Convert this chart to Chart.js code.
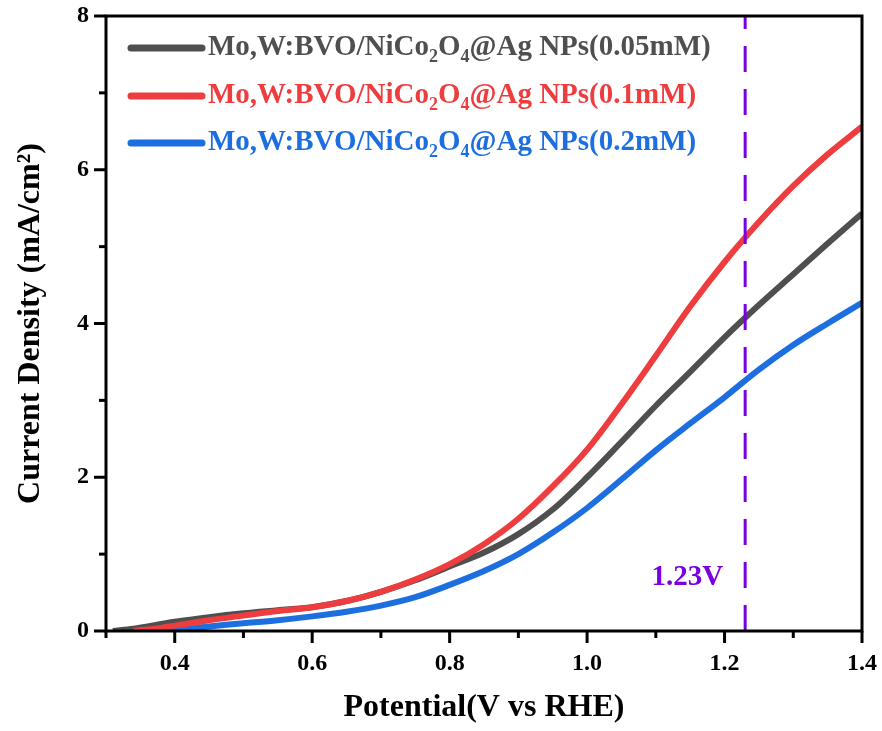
<!DOCTYPE html>
<html>
<head>
<meta charset="utf-8">
<script src="https://cdn.jsdelivr.net/npm/chart.js@4"></script>
<style>
  html, body { margin: 0; padding: 0; background: #fff; }
  #wrap { width: 882px; height: 731px; }
</style>
</head>
<body>
<div id="wrap"><canvas id="lsv"></canvas></div>
<script>
// potential (V vs RHE) and current density (mA/cm2)
const potential = [0.31, 0.34, 0.38, 0.40, 0.45, 0.50, 0.55, 0.60, 0.65, 0.70, 0.75, 0.80,
  0.85, 0.90, 0.95, 1.00, 1.05, 1.10, 1.15, 1.20, 1.25, 1.30, 1.35, 1.40];
const j005 = [0, 0.03, 0.09, 0.12, 0.18, 0.23, 0.27, 0.31, 0.39, 0.51, 0.66, 0.84,
  1.02, 1.26, 1.58, 2.00, 2.46, 2.93, 3.37, 3.82, 4.24, 4.64, 5.04, 5.43];
const j01 = [null, 0, 0.04, 0.07, 0.14, 0.20, 0.26, 0.31, 0.39, 0.51, 0.67, 0.87,
  1.13, 1.46, 1.88, 2.36, 2.95, 3.58, 4.22, 4.80, 5.32, 5.79, 6.20, 6.56];
const j02 = [null, null, 0, 0.02, 0.06, 0.10, 0.14, 0.19, 0.25, 0.33, 0.44, 0.60,
  0.78, 1.00, 1.28, 1.60, 1.97, 2.35, 2.70, 3.04, 3.40, 3.72, 4.00, 4.27];
const seriesNames = ['Mo,W:BVO/NiCo2O4@Ag NPs(0.05mM)', 'Mo,W:BVO/NiCo2O4@Ag NPs(0.1mM)', 'Mo,W:BVO/NiCo2O4@Ag NPs(0.2mM)'];
const refPotential = 1.23;
const refLabel = '1.23V';
const xTicks = [0.3, 0.4, 0.5, 0.6, 0.7, 0.8, 0.9, 1.0, 1.1, 1.2, 1.3, 1.4];
const yTicks = [0, 1, 2, 3, 4, 5, 6, 7, 8];

const colors = ['#4f4f4f', '#ee3d3f', '#1d6fdf'];
const purple = '#7a00e0';
const serif = '"Liberation Serif", "Times New Roman", serif';

function pts(ys) {
  const out = [];
  ys.forEach((v, i) => { if (v !== null) out.push({ x: potential[i], y: v }); });
  return out;
}

// draw a name, with the digits after "Co" and "O" as subscripts
function drawName(ctx, name, x, y, size) {
  const parts = name.split(/(?<=NiCo)(2)|(?<=O)(4)/).filter(p => p !== undefined && p !== '');
  let idx = 0;
  parts.forEach(p => {
    const sub = (p === '2' && name.slice(0, idx).endsWith('NiCo')) || (p === '4' && name.slice(0, idx).endsWith('O'));
    if (sub) {
      ctx.font = 'bold ' + Math.round(size * 0.62) + 'px ' + serif;
      ctx.fillText(p, x, y + size * 0.32);
    } else {
      ctx.font = 'bold ' + size + 'px ' + serif;
      ctx.fillText(p, x, y);
    }
    x += ctx.measureText(p).width;
    idx += p.length;
  });
}

// frame, tick marks, legend with subscripts and the 1.23V label
const decor = {
  id: 'decor',
  afterDraw(chart) {
    const ctx = chart.ctx;
    const a = chart.chartArea;
    const xs = chart.scales.x, ys = chart.scales.y;
    ctx.save();
    ctx.strokeStyle = '#000';
    ctx.lineWidth = 3;
    ctx.strokeRect(a.left, a.top, a.right - a.left, a.bottom - a.top);
    xTicks.forEach(v => {
      const px = xs.getPixelForValue(v);
      const major = Math.round(v * 10) % 2 === 0;
      ctx.beginPath();
      ctx.moveTo(px, a.bottom);
      ctx.lineTo(px, a.bottom + (major ? 12 : 7));
      ctx.stroke();
    });
    yTicks.forEach(v => {
      const py = ys.getPixelForValue(v);
      const major = v % 2 === 0;
      ctx.beginPath();
      ctx.moveTo(a.left, py);
      ctx.lineTo(a.left - (major ? 12 : 7), py);
      ctx.stroke();
    });

    // legend
    const rows = [48, 96, 143];
    seriesNames.forEach((name, k) => {
      const y = rows[k];
      ctx.strokeStyle = colors[k];
      ctx.lineWidth = 7;
      ctx.lineCap = 'round';
      ctx.beginPath();
      ctx.moveTo(131, y);
      ctx.lineTo(202, y);
      ctx.stroke();
      ctx.fillStyle = colors[k];
      ctx.textBaseline = 'middle';
      ctx.textAlign = 'left';
      drawName(ctx, name, 208, y, 29);
    });

    ctx.fillStyle = purple;
    ctx.font = 'bold 29px ' + serif;
    ctx.textAlign = 'right';
    ctx.textBaseline = 'middle';
    ctx.fillText(refLabel, xs.getPixelForValue(refPotential) - 22, ys.getPixelForValue(0.7));
    ctx.restore();
  }
};

new Chart(document.getElementById('lsv').getContext('2d'), {
  type: 'line',
  data: {
    datasets: [
      { data: [{ x: refPotential, y: 0 }, { x: refPotential, y: 8 }], borderColor: purple,
        borderWidth: 3, borderDash: [26, 17], pointRadius: 0, order: 0 },
      { label: seriesNames[1], data: pts(j01), borderColor: colors[1], borderWidth: 6,
        pointRadius: 0, cubicInterpolationMode: 'monotone', order: 1 },
      { label: seriesNames[0], data: pts(j005), borderColor: colors[0], borderWidth: 6,
        pointRadius: 0, cubicInterpolationMode: 'monotone', order: 2 },
      { label: seriesNames[2], data: pts(j02), borderColor: colors[2], borderWidth: 6,
        pointRadius: 0, cubicInterpolationMode: 'monotone', order: 3 }
    ]
  },
  options: {
    responsive: true,
    maintainAspectRatio: false,
    animation: false,
    layout: { padding: { left: 0, right: 20, top: 16, bottom: 0 } },
    plugins: { legend: { display: false }, tooltip: { enabled: false } },
    scales: {
      x: {
        type: 'linear', min: 0.3, max: 1.4,
        grid: { display: false, drawTicks: false },
        border: { display: false },
        ticks: {
          stepSize: 0.1, padding: 18, color: '#000', maxRotation: 0,
          font: { family: serif, size: 24, weight: 'bold' },
          callback: v => (Math.round(v * 10) % 2 === 0 ? v.toFixed(1) : '')
        },
        title: { display: true, text: 'Potential(V vs RHE)', color: '#000',
          font: { family: serif, size: 32, weight: 'bold' }, padding: { top: 24 } },
        afterFit: s => { s.height = 100; s.paddingLeft = 0; s.paddingRight = 0; }
      },
      y: {
        min: 0, max: 8,
        grid: { display: false, drawTicks: false },
        border: { display: false },
        ticks: {
          stepSize: 1, padding: 17, color: '#000',
          font: { family: serif, size: 24, weight: 'bold' },
          callback: v => (v % 2 === 0 ? String(v) : '')
        },
        title: { display: true, text: 'Current Density (mA/cm\u00b2)', color: '#000',
          font: { family: serif, size: 32, weight: 'bold' }, padding: { top: 12, bottom: 4 } },
        afterFit: s => { s.width = 106; s.paddingTop = 0; s.paddingBottom = 0; }
      }
    }
  },
  plugins: [decor]
});
</script>
</body>
</html>
